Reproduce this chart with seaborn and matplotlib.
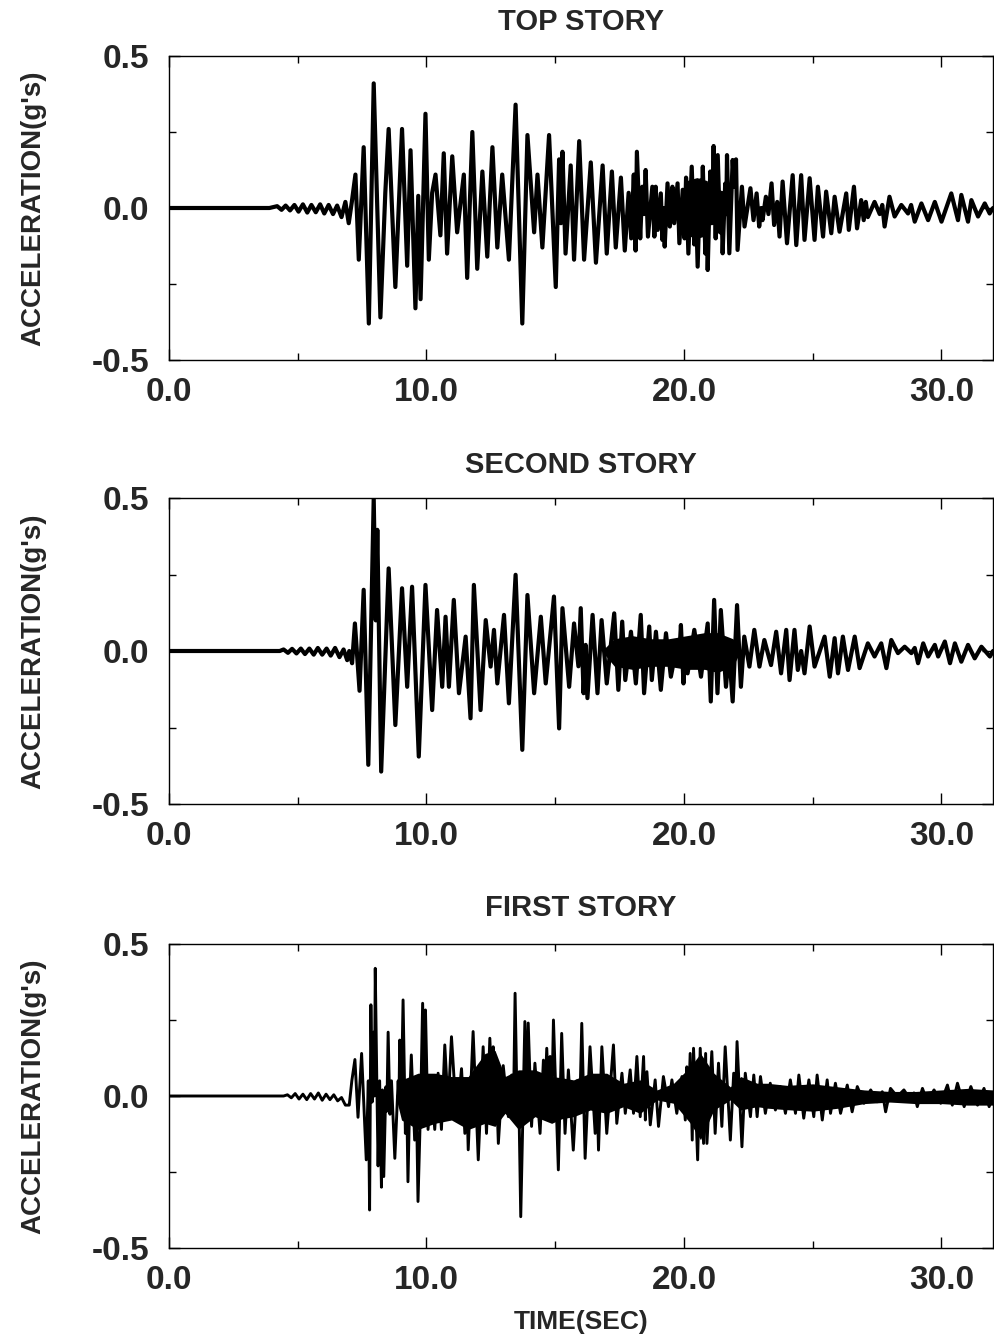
"""
Story acceleration time histories (top / second / first story).
Peak values read off the scanned figure.
"""

import matplotlib
matplotlib.use("Agg")
import matplotlib.pyplot as plt
from matplotlib.ticker import MultipleLocator, FormatStrFormatter
import pandas as pd
import seaborn as sns

# (time in sec, acceleration in g's) - extremes
top_story = [
    (0.0, 0.0), (3.9, 0.0), (4.2, 0.006), (4.37, -0.006), (4.53, 0.008), (4.7, -0.008),
    (4.87, 0.01), (5.03, -0.012), (5.2, 0.012), (5.37, -0.015), (5.53, 0.01), (5.7, -0.014),
    (5.87, 0.012), (6.03, -0.018), (6.2, 0.01), (6.37, -0.02), (6.53, 0.008), (6.7, -0.03),
    (6.85, 0.02), (6.98, -0.05), (7.1, 0.02), (7.24, 0.11), (7.37, -0.17), (7.56, 0.20),
    (7.76, -0.38), (7.95, 0.41), (8.21, -0.36), (8.4, 0.05), (8.53, 0.26), (8.79, -0.26),
    (9.05, 0.26), (9.25, -0.19), (9.38, 0.19), (9.57, -0.33), (9.68, 0.04), (9.77, -0.30),
    (9.96, 0.31), (10.09, -0.17), (10.22, 0.05), (10.35, 0.11), (10.54, -0.09), (10.67, 0.18),
    (10.8, -0.15), (11.0, 0.17), (11.19, -0.08), (11.45, 0.11), (11.58, -0.23), (11.78, 0.25),
    (11.97, -0.20), (12.17, 0.12), (12.36, -0.16), (12.56, 0.20), (12.75, -0.13), (12.94, 0.11),
    (13.2, -0.17), (13.46, 0.34), (13.72, -0.38), (13.92, 0.24), (14.18, -0.08), (14.31, 0.11),
    (14.5, -0.13), (14.76, 0.24), (15.02, -0.26), (15.15, 0.16), (15.22, -0.05), (15.28, 0.185),
    (15.4, -0.15), (15.6, 0.14), (15.73, -0.17), (15.93, 0.22), (16.12, -0.17), (16.38, 0.15),
    (16.58, -0.18), (16.84, 0.14), (17.0, -0.15), (17.2, 0.12), (17.35, -0.13), (17.55, 0.10),
    (17.7, -0.14), (17.85, 0.05), (17.95, -0.10), (18.05, 0.11), (18.12, -0.14), (18.17, 0.185),
    (18.3, -0.10), (18.38, 0.07), (18.45, -0.02), (18.51, 0.125), (18.6, -0.094), (18.77, 0.07),
    (18.85, -0.094), (18.9, 0.07), (18.98, -0.072), (19.1, 0.048), (19.16, -0.105), (19.2, 0.0),
    (19.25, -0.127), (19.36, 0.081), (19.45, -0.061), (19.55, 0.07), (19.62, -0.05), (19.75, 0.081),
    (19.82, -0.116), (19.95, 0.06), (20.02, -0.10), (20.08, 0.10), (20.17, -0.15), (20.3, 0.136),
    (20.4, -0.12), (20.45, 0.06), (20.53, -0.193), (20.63, 0.09), (20.68, -0.05), (20.73, 0.136),
    (20.83, -0.15), (20.88, 0.0), (20.92, -0.204), (21.02, 0.12), (21.08, -0.05), (21.15, 0.204),
    (21.23, -0.10), (21.31, 0.174), (21.4, -0.08), (21.45, 0.05), (21.5, -0.149), (21.6, 0.08),
    (21.64, -0.02), (21.67, 0.174), (21.72, 0.0), (21.76, -0.149), (21.89, 0.158), (21.95, 0.07),
    (22.02, 0.16), (22.08, -0.138), (22.25, 0.07), (22.35, -0.061), (22.58, 0.065), (22.7, -0.04),
    (22.82, 0.048), (22.92, -0.061), (23.0, 0.0), (23.05, -0.04), (23.18, 0.037), (23.28, -0.02),
    (23.4, 0.081), (23.5, -0.056), (23.62, 0.02), (23.71, -0.094), (23.83, 0.087), (24.0, -0.116),
    (24.22, 0.108), (24.36, -0.122), (24.55, 0.108), (24.68, -0.105), (24.88, 0.098), (25.07, -0.105),
    (25.2, 0.07), (25.4, -0.094), (25.52, 0.054), (25.72, -0.083), (25.85, 0.037), (26.04, -0.078),
    (26.3, 0.048), (26.4, -0.072), (26.6, 0.07), (26.72, -0.067), (26.88, 0.026), (26.98, -0.04),
    (27.06, 0.02), (27.14, -0.03), (27.4, 0.02), (27.6, -0.02), (27.7, 0.01), (27.79, -0.061),
    (27.98, 0.037), (28.18, -0.028), (28.44, 0.01), (28.7, -0.018), (28.82, 0.01), (28.96, -0.045),
    (29.22, 0.015), (29.48, -0.04), (29.74, 0.02), (30.0, -0.045), (30.38, 0.048), (30.64, -0.04),
    (30.77, 0.043), (31.03, -0.045), (31.16, 0.026), (31.42, -0.028), (31.68, 0.015), (31.87, -0.018),
    (32.0, 0.0),
]

second_story = [
    (0.0, 0.0), (4.3, 0.0), (4.45, 0.005), (4.62, -0.006), (4.78, 0.007), (4.95, -0.008),
    (5.12, 0.008), (5.28, -0.01), (5.45, 0.008), (5.62, -0.012), (5.78, 0.01), (5.95, -0.012),
    (6.12, 0.008), (6.28, -0.015), (6.45, 0.01), (6.62, -0.02), (6.78, 0.005), (6.92, -0.03),
    (7.0, 0.0), (7.11, -0.04), (7.22, 0.09), (7.4, -0.13), (7.56, 0.2), (7.74, -0.372),
    (7.95, 0.499), (8.03, 0.1), (8.09, 0.396), (8.24, -0.394), (8.53, 0.27), (8.79, -0.242),
    (9.05, 0.205), (9.25, -0.117), (9.44, 0.21), (9.7, -0.345), (9.96, 0.216), (10.22, -0.193),
    (10.41, 0.134), (10.61, -0.117), (10.74, 0.112), (10.87, -0.117), (11.06, 0.167), (11.26, -0.138),
    (11.52, 0.047), (11.71, -0.22), (11.84, 0.216), (12.1, -0.193), (12.3, 0.101), (12.49, -0.051),
    (12.62, 0.069), (12.75, -0.106), (13.01, 0.118), (13.2, -0.171), (13.46, 0.249), (13.72, -0.323),
    (13.92, 0.183), (14.18, -0.138), (14.44, 0.112), (14.63, -0.106), (14.95, 0.178), (15.15, -0.253),
    (15.28, 0.14), (15.54, -0.117), (15.73, 0.09), (15.9, -0.05), (15.99, 0.14), (16.1, -0.138),
    (16.18, 0.02), (16.25, -0.154), (16.45, 0.118), (16.64, -0.138), (16.8, 0.101), (17.0, -0.106),
    (17.29, 0.123), (17.45, -0.127), (17.6, 0.096), (17.72, -0.095), (17.94, 0.063), (18.13, -0.106),
    (18.32, 0.118), (18.45, -0.138), (18.65, 0.08), (18.75, -0.095), (18.91, 0.063), (19.1, -0.127),
    (19.3, 0.058), (19.49, -0.084), (19.75, 0.03), (19.8, -0.04), (19.88, 0.085), (19.98, -0.106),
    (20.06, 0.02), (20.14, -0.073), (20.4, 0.069), (20.66, -0.084), (20.92, 0.09), (21.04, -0.165),
    (21.17, 0.167), (21.3, -0.138), (21.43, 0.134), (21.63, -0.117), (21.75, 0.0), (21.89, -0.165),
    (22.06, 0.15), (22.21, -0.117), (22.34, 0.047), (22.54, -0.051), (22.73, 0.069), (22.93, -0.051),
    (23.12, 0.036), (23.38, -0.046), (23.58, 0.063), (23.77, -0.073), (23.97, 0.069), (24.1, -0.095),
    (24.29, 0.069), (24.42, -0.062), (24.55, 0.0), (24.68, -0.073), (24.88, 0.08), (25.07, -0.051),
    (25.46, 0.047), (25.66, -0.084), (25.85, 0.042), (25.98, -0.073), (26.17, 0.047), (26.37, -0.062),
    (26.63, 0.047), (26.82, -0.056), (27.14, 0.025), (27.4, -0.018), (27.66, 0.025), (27.86, -0.056),
    (28.05, 0.036), (28.31, -0.007), (28.57, 0.014), (28.83, -0.007), (28.96, 0.01), (29.09, -0.04),
    (29.29, 0.025), (29.48, -0.018), (29.74, 0.02), (29.87, -0.018), (30.13, 0.031), (30.33, -0.04),
    (30.52, 0.025), (30.77, -0.035), (31.03, 0.02), (31.29, -0.024), (31.55, 0.014), (31.88, -0.018),
    (32.0, 0.0),
]

first_story = [
    (0.0, 0.0), (4.45, 0.0), (4.6, 0.004), (4.75, -0.006), (4.9, 0.008), (5.05, -0.01),
    (5.2, 0.006), (5.35, -0.012), (5.5, 0.008), (5.65, -0.01), (5.8, 0.01), (5.95, -0.014),
    (6.1, 0.006), (6.25, -0.012), (6.4, 0.004), (6.55, -0.016), (6.7, -0.005), (6.85, -0.03),
    (7.0, -0.03), (7.1, 0.05), (7.22, 0.12), (7.34, -0.07), (7.48, 0.14), (7.66, -0.21),
    (7.74, 0.05), (7.79, -0.375), (7.84, 0.30), (7.89, -0.02), (7.95, 0.21), (7.98, 0.0),
    (8.01, 0.42), (8.07, 0.05), (8.12, -0.23), (8.18, 0.05), (8.25, -0.30), (8.29, 0.02),
    (8.34, -0.265), (8.42, 0.03), (8.46, -0.05), (8.51, 0.21), (8.58, -0.06), (8.64, 0.05),
    (8.77, -0.205), (8.9, 0.05), (8.93, -0.02), (8.96, 0.184), (9.02, -0.02), (9.09, 0.316),
    (9.18, -0.123), (9.23, 0.0), (9.28, -0.282), (9.35, 0.0), (9.41, 0.135), (9.54, -0.145),
    (9.6, 0.03), (9.67, -0.347), (9.78, 0.0), (9.85, 0.305), (9.92, 0.0), (9.96, 0.283),
    (10.06, -0.11), (10.19, 0.05), (10.32, -0.11), (10.45, 0.075), (10.58, -0.11), (10.71, 0.168),
    (10.84, -0.035), (10.97, 0.195), (11.17, -0.079), (11.36, 0.09), (11.49, -0.123), (11.55, 0.05),
    (11.62, -0.177), (11.81, 0.212), (12.01, -0.21), (12.2, 0.162), (12.33, -0.123), (12.46, 0.19),
    (12.55, 0.0), (12.59, 0.162), (12.65, -0.079), (12.72, 0.02), (12.79, -0.156), (12.98, 0.1),
    (13.18, -0.068), (13.31, 0.069), (13.38, -0.03), (13.44, 0.338), (13.53, -0.09), (13.58, 0.02),
    (13.66, -0.397), (13.82, 0.245), (13.9, 0.0), (13.95, 0.24), (14.08, -0.1), (14.21, 0.108),
    (14.41, -0.123), (14.54, 0.118), (14.6, 0.0), (14.67, 0.157), (14.74, 0.0), (14.8, 0.13),
    (14.86, -0.05), (14.93, 0.25), (15.12, -0.243), (15.25, 0.206), (15.38, -0.123), (15.51, 0.086),
    (15.7, -0.178), (15.85, 0.05), (15.95, -0.05), (16.03, 0.239), (16.16, -0.205), (16.35, 0.162),
    (16.55, -0.123), (16.62, 0.02), (16.68, -0.178), (16.81, 0.162), (17.0, -0.123), (17.26, 0.168),
    (17.39, -0.09), (17.59, 0.075), (17.72, -0.057), (17.91, 0.086), (18.04, -0.057), (18.17, 0.13),
    (18.3, -0.068), (18.43, 0.13), (18.5, -0.079), (18.56, 0.08), (18.69, -0.095), (18.88, 0.053),
    (19.01, -0.1), (19.2, 0.064), (19.4, -0.035), (19.53, 0.053), (19.72, -0.057), (19.92, 0.064),
    (20.05, -0.079), (20.11, 0.096), (20.17, -0.05), (20.24, 0.14), (20.32, -0.145), (20.37, 0.157),
    (20.53, -0.21), (20.63, 0.157), (20.76, -0.156), (20.84, 0.14), (20.89, -0.156), (21.08, 0.146),
    (21.21, -0.123), (21.34, 0.108), (21.47, -0.1), (21.6, 0.162), (21.8, -0.145), (21.93, 0.075),
    (22.0, -0.02), (22.06, 0.179), (22.25, -0.167), (22.38, 0.075), (22.58, -0.068), (22.71, 0.069),
    (22.84, -0.068), (22.97, 0.064), (23.16, -0.057), (23.35, 0.042), (23.55, -0.046), (23.74, 0.031),
    (23.94, -0.057), (24.13, 0.053), (24.33, -0.057), (24.46, 0.069), (24.65, -0.073), (24.85, 0.053),
    (25.04, -0.068), (25.17, 0.069), (25.37, -0.079), (25.56, 0.053), (25.69, -0.057), (25.88, 0.042),
    (26.08, -0.057), (26.34, 0.036), (26.53, -0.052), (26.73, 0.031), (26.99, -0.024), (27.25, 0.02),
    (27.5, -0.019), (27.7, 0.014), (27.83, -0.052), (28.02, 0.025), (28.28, -0.002), (28.54, 0.02),
    (28.8, -0.013), (28.93, 0.01), (29.06, -0.035), (29.26, 0.025), (29.45, -0.019), (29.71, 0.02),
    (29.97, -0.024), (30.23, 0.036), (30.42, -0.03), (30.62, 0.042), (30.88, -0.035), (31.14, 0.031),
    (31.4, -0.03), (31.65, 0.025), (31.85, -0.035), (32.0, 0.0),
]

# solid black core of the trace where the record is too dense to separate cycles
top_band_time = [19.9, 20.1, 20.5, 20.9, 21.1]
top_band_upper = [0.0, 0.09, 0.10, 0.09, 0.0]
top_band_lower = [0.0, -0.09, -0.10, -0.09, 0.0]

second_band_time = [16.8, 17.3, 18.0, 18.7, 19.4, 20.1, 20.8, 21.3, 21.9, 22.2]
second_band_upper = [0.0, 0.04, 0.05, 0.04, 0.04, 0.05, 0.06, 0.06, 0.04, 0.0]
second_band_lower = [0.0, -0.05, -0.06, -0.05, -0.05, -0.06, -0.06, -0.07, -0.05, 0.0]

first_band_time = [8.8, 9.03, 9.67, 10.32, 10.97, 11.62, 12.27, 12.66, 13.05, 13.57,
                   14.21, 14.86, 15.25, 15.71, 16.36, 17.0, 17.65, 18.3, 18.95, 19.6,
                   20.25, 20.64, 21.16, 21.8, 22.2, 22.84, 23.23, 24.0, 25.0, 26.0,
                   27.0, 28.0, 29.0, 30.0, 31.0, 32.0]
first_band_upper = [0.0, 0.053, 0.075, 0.075, 0.064, 0.064, 0.14, 0.15, 0.064, 0.086,
                    0.086, 0.064, 0.06, 0.053, 0.075, 0.075, 0.042, 0.053, 0.02, 0.042,
                    0.097, 0.14, 0.075, 0.03, 0.064, 0.042, 0.042, 0.035, 0.04, 0.03,
                    0.02, 0.015, 0.015, 0.02, 0.025, 0.02]
first_band_lower = [0.0, -0.079, -0.11, -0.09, -0.079, -0.11, -0.09, -0.1, -0.057, -0.11,
                    -0.068, -0.09, -0.075, -0.068, -0.046, -0.057, -0.035, -0.057, -0.013, -0.024,
                    -0.09, -0.144, -0.046, -0.013, -0.046, -0.035, -0.04, -0.045, -0.05, -0.04,
                    -0.025, -0.02, -0.025, -0.025, -0.03, -0.03]

titles = ["TOP STORY", "SECOND STORY", "FIRST STORY"]
y_label = "ACCELERATION(g's)"
x_label = "TIME(SEC)"

sns.set_style("ticks")
plt.rcParams["font.family"] = ["Liberation Sans", "DejaVu Sans"]
plt.rcParams["font.weight"] = "bold"

W, H = 994, 1344
fig = plt.figure(figsize=(W / 100, H / 100), dpi=100)

# panel boxes in pixels: (top, bottom) of each axes, title centre, trace width
panel_px = [(56, 360, 22, 3.0), (498, 804, 465, 3.0), (944, 1248, 908, 2.1)]
bands = [(top_band_time, top_band_upper, top_band_lower),
         (second_band_time, second_band_upper, second_band_lower),
         (first_band_time, first_band_upper, first_band_lower)]
left_px, right_px = 169, 993

for title, data, band, (top, bottom, title_y, lw) in zip(
        titles, [top_story, second_story, first_story], bands, panel_px):
    ax = fig.add_axes([left_px / W, 1 - bottom / H, (right_px - left_px) / W, (bottom - top) / H])
    df = pd.DataFrame(data, columns=["time", "acc"])
    sns.lineplot(data=df, x="time", y="acc", ax=ax, color="black", lw=lw,
                 estimator=None, sort=False)
    ax.fill_between(band[0], band[2], band[1], color="black", lw=0)

    ax.set_xlim(0, 32)
    ax.set_ylim(-0.5, 0.5)
    ax.xaxis.set_major_locator(MultipleLocator(10))
    ax.xaxis.set_minor_locator(MultipleLocator(5))
    ax.yaxis.set_major_locator(MultipleLocator(0.5))
    ax.yaxis.set_minor_locator(MultipleLocator(0.25))
    ax.xaxis.set_major_formatter(FormatStrFormatter("%.1f"))
    ax.yaxis.set_major_formatter(FormatStrFormatter("%.1f"))
    ax.tick_params(which="both", direction="in", top=True, right=True, width=1, color="black")
    ax.tick_params(which="major", length=8)
    ax.tick_params(which="minor", length=5)
    ax.tick_params(axis="y", labelsize=24, pad=14)
    ax.tick_params(axis="x", labelsize=24, pad=12)
    for s in ax.spines.values():
        s.set_linewidth(1.0)
        s.set_color("black")
    ax.set_xlabel("")
    ax.set_ylabel("")

    fig.text(581 / W, 1 - title_y / H, title, ha="center", va="center", fontsize=21)
    fig.text(33 / W, 1 - (top + bottom) / 2 / H, y_label, rotation=90,
             ha="center", va="center", fontsize=20)

fig.text(581 / W, 1 - 1322 / H, x_label, ha="center", va="center", fontsize=19)

fig.savefig("out.png", dpi=100)
